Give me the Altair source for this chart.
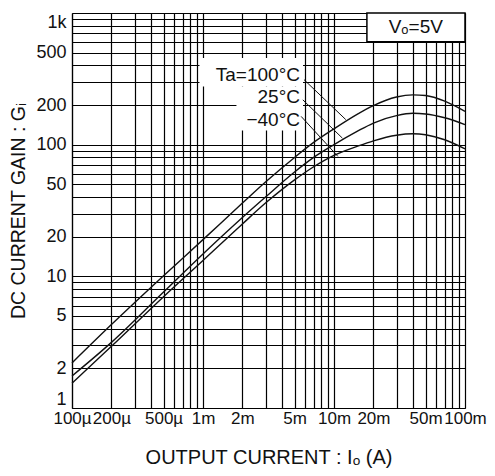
import altair as alt
import pandas as pd

# ---- data ----
current = [1e-4, 2e-4, 5e-4, 1e-3, 2e-3, 3e-3, 5e-3, 7e-3, 1e-2, 1.5e-2, 2e-2, 3e-2, 4e-2, 5e-2, 7e-2, 1e-1]
gain_100 = [2.2, 4.3, 10.1, 19.0, 36.0, 52.0, 80.0, 104.0, 132.0, 170.0, 198.0, 230.0, 239.0, 236.0, 214.0, 179.0]
gain_25 = [1.75, 3.15, 7.6, 14.8, 28.0, 40.0, 62.0, 80.0, 100.0, 126.0, 146.0, 166.0, 173.0, 171.0, 160.0, 142.0]
gain_m40 = [1.54, 2.94, 7.0, 13.2, 25.0, 36.0, 54.0, 68.0, 83.0, 97.0, 107.0, 118.0, 121.0, 119.0, 109.0, 93.0]
series_names = ["Ta=100°C", "25°C", "−40°C"]

x_tick_values = [1e-4, 2e-4, 5e-4, 1e-3, 2e-3, 5e-3, 1e-2, 2e-2, 5e-2, 1e-1]
x_tick_labels = ["100µ", "200µ", "500µ", "1m", "2m", "5m", "10m", "20m", "50m", "100m"]
y_tick_values = [1, 2, 5, 10, 20, 50, 100, 200, 500, 1000]
y_tick_labels = ["1", "2", "5", "10", "20", "50", "100", "200", "500", "1k"]

# label annotation positions (data units)
label_x = [0.0055, 0.0055, 0.0055]
label_y = [340, 232, 155]
leader_x1 = [0.0059, 0.00578, 0.00561]
leader_y1 = [312, 219, 164]
leader_x2 = [0.0123, 0.0116, 0.0107]
leader_y2 = [155, 112, 81.5]

# white background boxes behind labels
box_x1 = [0.00094, 0.0018]
box_x2 = [0.0058, 0.0058]
box_y1 = [276, 128]
box_y2 = [455, 276]

cond_text = "Vₒ=5V"
cond_box_x = [0.01783, 0.1]
cond_box_y = [604, 1000]
cond_text_x = 0.0421
cond_text_y = 785

FONT = "Liberation Sans"
W, H = 393, 395

x_grid = [round(d * 10 ** e, 10) for e in (-4, -3, -2) for d in range(1, 10)] + [0.1]
y_grid = [d * 10 ** e for e in (0, 1, 2) for d in range(1, 10)] + [1000]


def label_expr(values, labels):
    expr = "''"
    for v, l in reversed(list(zip(values, labels))):
        expr = f"(abs(datum.value - {v}) < {v} * 1e-6) ? '{l}' : ({expr})"
    return expr


rows = []
for name, g in zip(series_names, [gain_100, gain_25, gain_m40]):
    for i, v in zip(current, g):
        rows.append({"I": i, "G": v, "series": name})
curves_df = pd.DataFrame(rows)

x_scale = alt.Scale(type="log", domain=[1e-4, 0.1], nice=False)
y_scale = alt.Scale(type="log", domain=[1, 1000], nice=False)

x_axis = alt.Axis(
    values=x_grid, labelExpr=label_expr(x_tick_values, x_tick_labels),
    grid=True, gridColor="#000", gridWidth=1.2, gridOpacity=1,
    ticks=False, domain=True, domainColor="#000", domainWidth=1.2,
    labelFont=FONT, labelFontSize=17, labelColor="#111", labelPadding=2,
    labelFlush=False, labelOverlap=False,
    title="OUTPUT  CURRENT : Iₒ (A)", titleFont=FONT, titleFontSize=20,
    titleFontWeight="normal", titleColor="#111", titleY=39,
)
y_axis = alt.Axis(
    values=y_grid, labelExpr=label_expr(y_tick_values, y_tick_labels),
    grid=True, gridColor="#000", gridWidth=1.2, gridOpacity=1,
    ticks=False, domain=True, domainColor="#000", domainWidth=1.2,
    labelFont=FONT, labelFontSize=18, labelColor="#111", labelPadding=6,
    labelFlush=True, labelOverlap=False,
    title="DC  CURRENT  GAIN : Gᵢ", titleFont=FONT, titleFontSize=19.5,
    titleFontWeight="normal", titleColor="#111", titleX=-54, titleY=H / 2,
    titleBaseline="middle", titleAlign="center", titleAngle=-90,
)

curves = alt.Chart(curves_df).mark_line(
    interpolate="monotone", color="#111", strokeWidth=1.4
).encode(
    x=alt.X("I:Q", scale=x_scale, axis=x_axis),
    y=alt.Y("G:Q", scale=y_scale, axis=y_axis),
    detail="series:N",
)

boxes_df = pd.DataFrame({"x1": box_x1, "x2": box_x2, "y1": box_y1, "y2": box_y2})
boxes = alt.Chart(boxes_df).mark_rect(fill="white", stroke=None).encode(
    x=alt.X("x1:Q", scale=x_scale), x2="x2:Q",
    y=alt.Y("y1:Q", scale=y_scale), y2="y2:Q",
)

labels_df = pd.DataFrame({"x": label_x, "y": label_y, "t": series_names})
labels = alt.Chart(labels_df).mark_text(
    align="right", baseline="middle", font=FONT, fontSize=19, color="#111"
).encode(
    x=alt.X("x:Q", scale=x_scale), y=alt.Y("y:Q", scale=y_scale), text="t:N"
)

leaders_df = pd.DataFrame({"x1": leader_x1, "y1": leader_y1, "x2": leader_x2, "y2": leader_y2})
leaders = alt.Chart(leaders_df).mark_rule(color="#111", strokeWidth=1).encode(
    x=alt.X("x1:Q", scale=x_scale), y=alt.Y("y1:Q", scale=y_scale),
    x2="x2:Q", y2="y2:Q",
)

cond_box_df = pd.DataFrame({"x1": [cond_box_x[0]], "x2": [cond_box_x[1]],
                            "y1": [cond_box_y[0]], "y2": [cond_box_y[1]]})
cond_box = alt.Chart(cond_box_df).mark_rect(fill="white", stroke="#000", strokeWidth=1.5).encode(
    x=alt.X("x1:Q", scale=x_scale), x2="x2:Q",
    y=alt.Y("y1:Q", scale=y_scale), y2="y2:Q",
)
cond_df = pd.DataFrame({"x": [cond_text_x], "y": [cond_text_y], "t": [cond_text]})
cond_label = alt.Chart(cond_df).mark_text(
    align="center", baseline="middle", font=FONT, fontSize=19, color="#111"
).encode(
    x=alt.X("x:Q", scale=x_scale), y=alt.Y("y:Q", scale=y_scale), text="t:N"
)

chart = alt.layer(curves, boxes, cond_box, leaders, labels, cond_label).properties(
    width=W, height=H,
    autosize=alt.AutoSizeParams(type="none"),
    padding={"left": 64, "top": 5, "right": 22, "bottom": 60},
).configure_view(stroke="#000", strokeWidth=1.2).configure(background="white")

chart.save("out.html", embed_options={"renderer": "svg", "actions": False})
